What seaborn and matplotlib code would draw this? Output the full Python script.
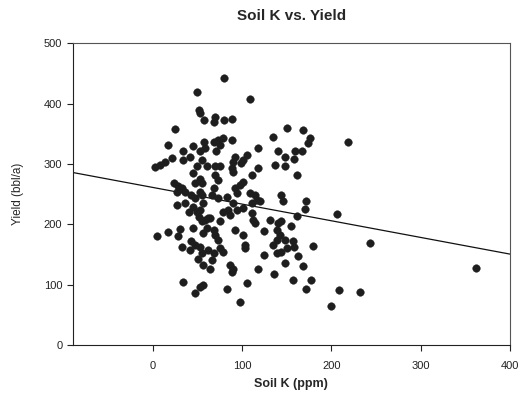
import numpy as np
import pandas as pd
import seaborn as sns
import matplotlib.pyplot as plt

# Soil K (ppm) and yield (bbl/a)
soil_k = [
    49, 52, 53, 57, 25, 17, 57, 45, 34, 41, 53, 58, 21, 13, 8, 2, 34, 55, 49, 60,
    45, 53, 47, 55, 23, 28, 27, 32, 36, 43, 47, 53, 55, 27, 36, 40, 45, 49, 53, 56,
    51, 55, 58, 62, 60, 4, 17, 30, 28, 45, 56, 43, 47, 41, 53, 55, 62, 32, 50, 56,
    34, 47, 53, 56, 73, 68, 64,
    80, 109, 69, 68, 80, 89, 150, 135, 68, 73, 79, 75, 89, 71, 118, 140, 148, 92,
    105, 101, 99, 90, 75, 69, 88, 118, 137, 148,
    69, 73, 90, 111, 101, 97, 92, 94, 68, 66, 83, 109, 114, 116, 111, 120, 144, 146,
    79, 84, 90, 94, 101, 86, 111, 112, 114, 131, 140, 144, 75, 64, 92, 101, 103, 103,
    124, 139, 142, 139, 148, 69, 73, 75, 79, 68, 66, 135, 139, 144, 150, 124, 148,
    86, 90, 88, 118, 136, 105, 83, 97,
    168, 176, 174, 218, 159, 167, 158, 161, 171, 170, 161, 206, 155, 157, 158, 179,
    243, 162, 168, 157, 177, 171, 209, 232, 199, 362,
]
yield_bbl = [
    419, 390, 385, 373, 358, 332, 337, 329, 321, 312, 321, 326, 310, 304, 299, 295, 307, 307, 296, 296,
    285, 276, 268, 268, 268, 263, 254, 260, 254, 249, 243, 254, 249, 232, 235, 221, 229, 221, 224, 235,
    213, 205, 207, 210, 194, 181, 188, 192, 181, 194, 186, 172, 166, 158, 162, 152, 158, 162, 143, 133,
    105, 87, 96, 100, 243, 191, 127,
    442, 408, 378, 370, 372, 374, 360, 344, 337, 340, 343, 332, 339, 322, 326, 321, 312, 312,
    315, 307, 301, 304, 297, 296, 293, 293, 299, 296,
    282, 274, 287, 282, 271, 265, 260, 252, 260, 249, 246, 252, 249, 241, 235, 238, 249, 238,
    221, 224, 235, 224, 227, 216, 219, 207, 202, 207, 202, 205, 205, 210, 191, 183, 166, 161,
    190, 191, 183, 174, 174, 183, 174, 161, 155, 152, 141, 166, 152, 155, 161, 150, 136,
    133, 127, 122, 126, 118, 104, 94, 72,
    356, 343, 334, 336, 322, 322, 308, 282, 239, 225, 214, 217, 198, 172, 163, 164,
    169, 148, 131, 108, 108, 94, 92, 89, 65, 128,
]

# linear trend line as drawn on the chart
trend_x = [-90, 400]
trend_y = [286, 151]

x_ticks = [0, 100, 200, 300, 400]
y_ticks = [0, 100, 200, 300, 400, 500]

df = pd.DataFrame({'soil_k': soil_k, 'yield': yield_bbl})
trend = pd.DataFrame({'x': trend_x, 'y': trend_y})

sns.set_style('white')
plt.rcParams['font.family'] = ['Liberation Sans', 'DejaVu Sans']

fig, ax = plt.subplots(figsize=(5.23, 4.03), dpi=100)
fig.subplots_adjust(left=0.139, right=0.975, top=0.893, bottom=0.143)

sns.lineplot(data=trend, x='x', y='y', ax=ax, color='#111111', linewidth=0.9)
sns.scatterplot(data=df, x='soil_k', y='yield', ax=ax, color='#1e1e1e',
                s=30, edgecolor='#1e1e1e', linewidth=0.3, zorder=3)

ax.set_xlim(-90, 400)
ax.set_ylim(0, 500)
ax.set_xticks(x_ticks)
ax.set_yticks(y_ticks)
ax.tick_params(axis='both', direction='out', length=4, width=0.8,
               labelsize=8, colors='#222222', bottom=True, left=True)
ax.tick_params(axis='x', pad=7)

for side in ['left', 'bottom', 'top', 'right']:
    ax.spines[side].set_color('#222222')
    ax.spines[side].set_linewidth(0.8)
ax.spines['top'].set_color('#555555')
ax.spines['right'].set_color('#555555')

ax.set_title('Soil K vs. Yield', fontsize=11, fontweight='bold', pad=17)
ax.set_xlabel('Soil K (ppm)', fontsize=9, fontweight='bold', labelpad=5)
ax.set_ylabel('Yield (bbl/a)', fontsize=8.5, labelpad=14)

fig.savefig('out.png', dpi=100)
